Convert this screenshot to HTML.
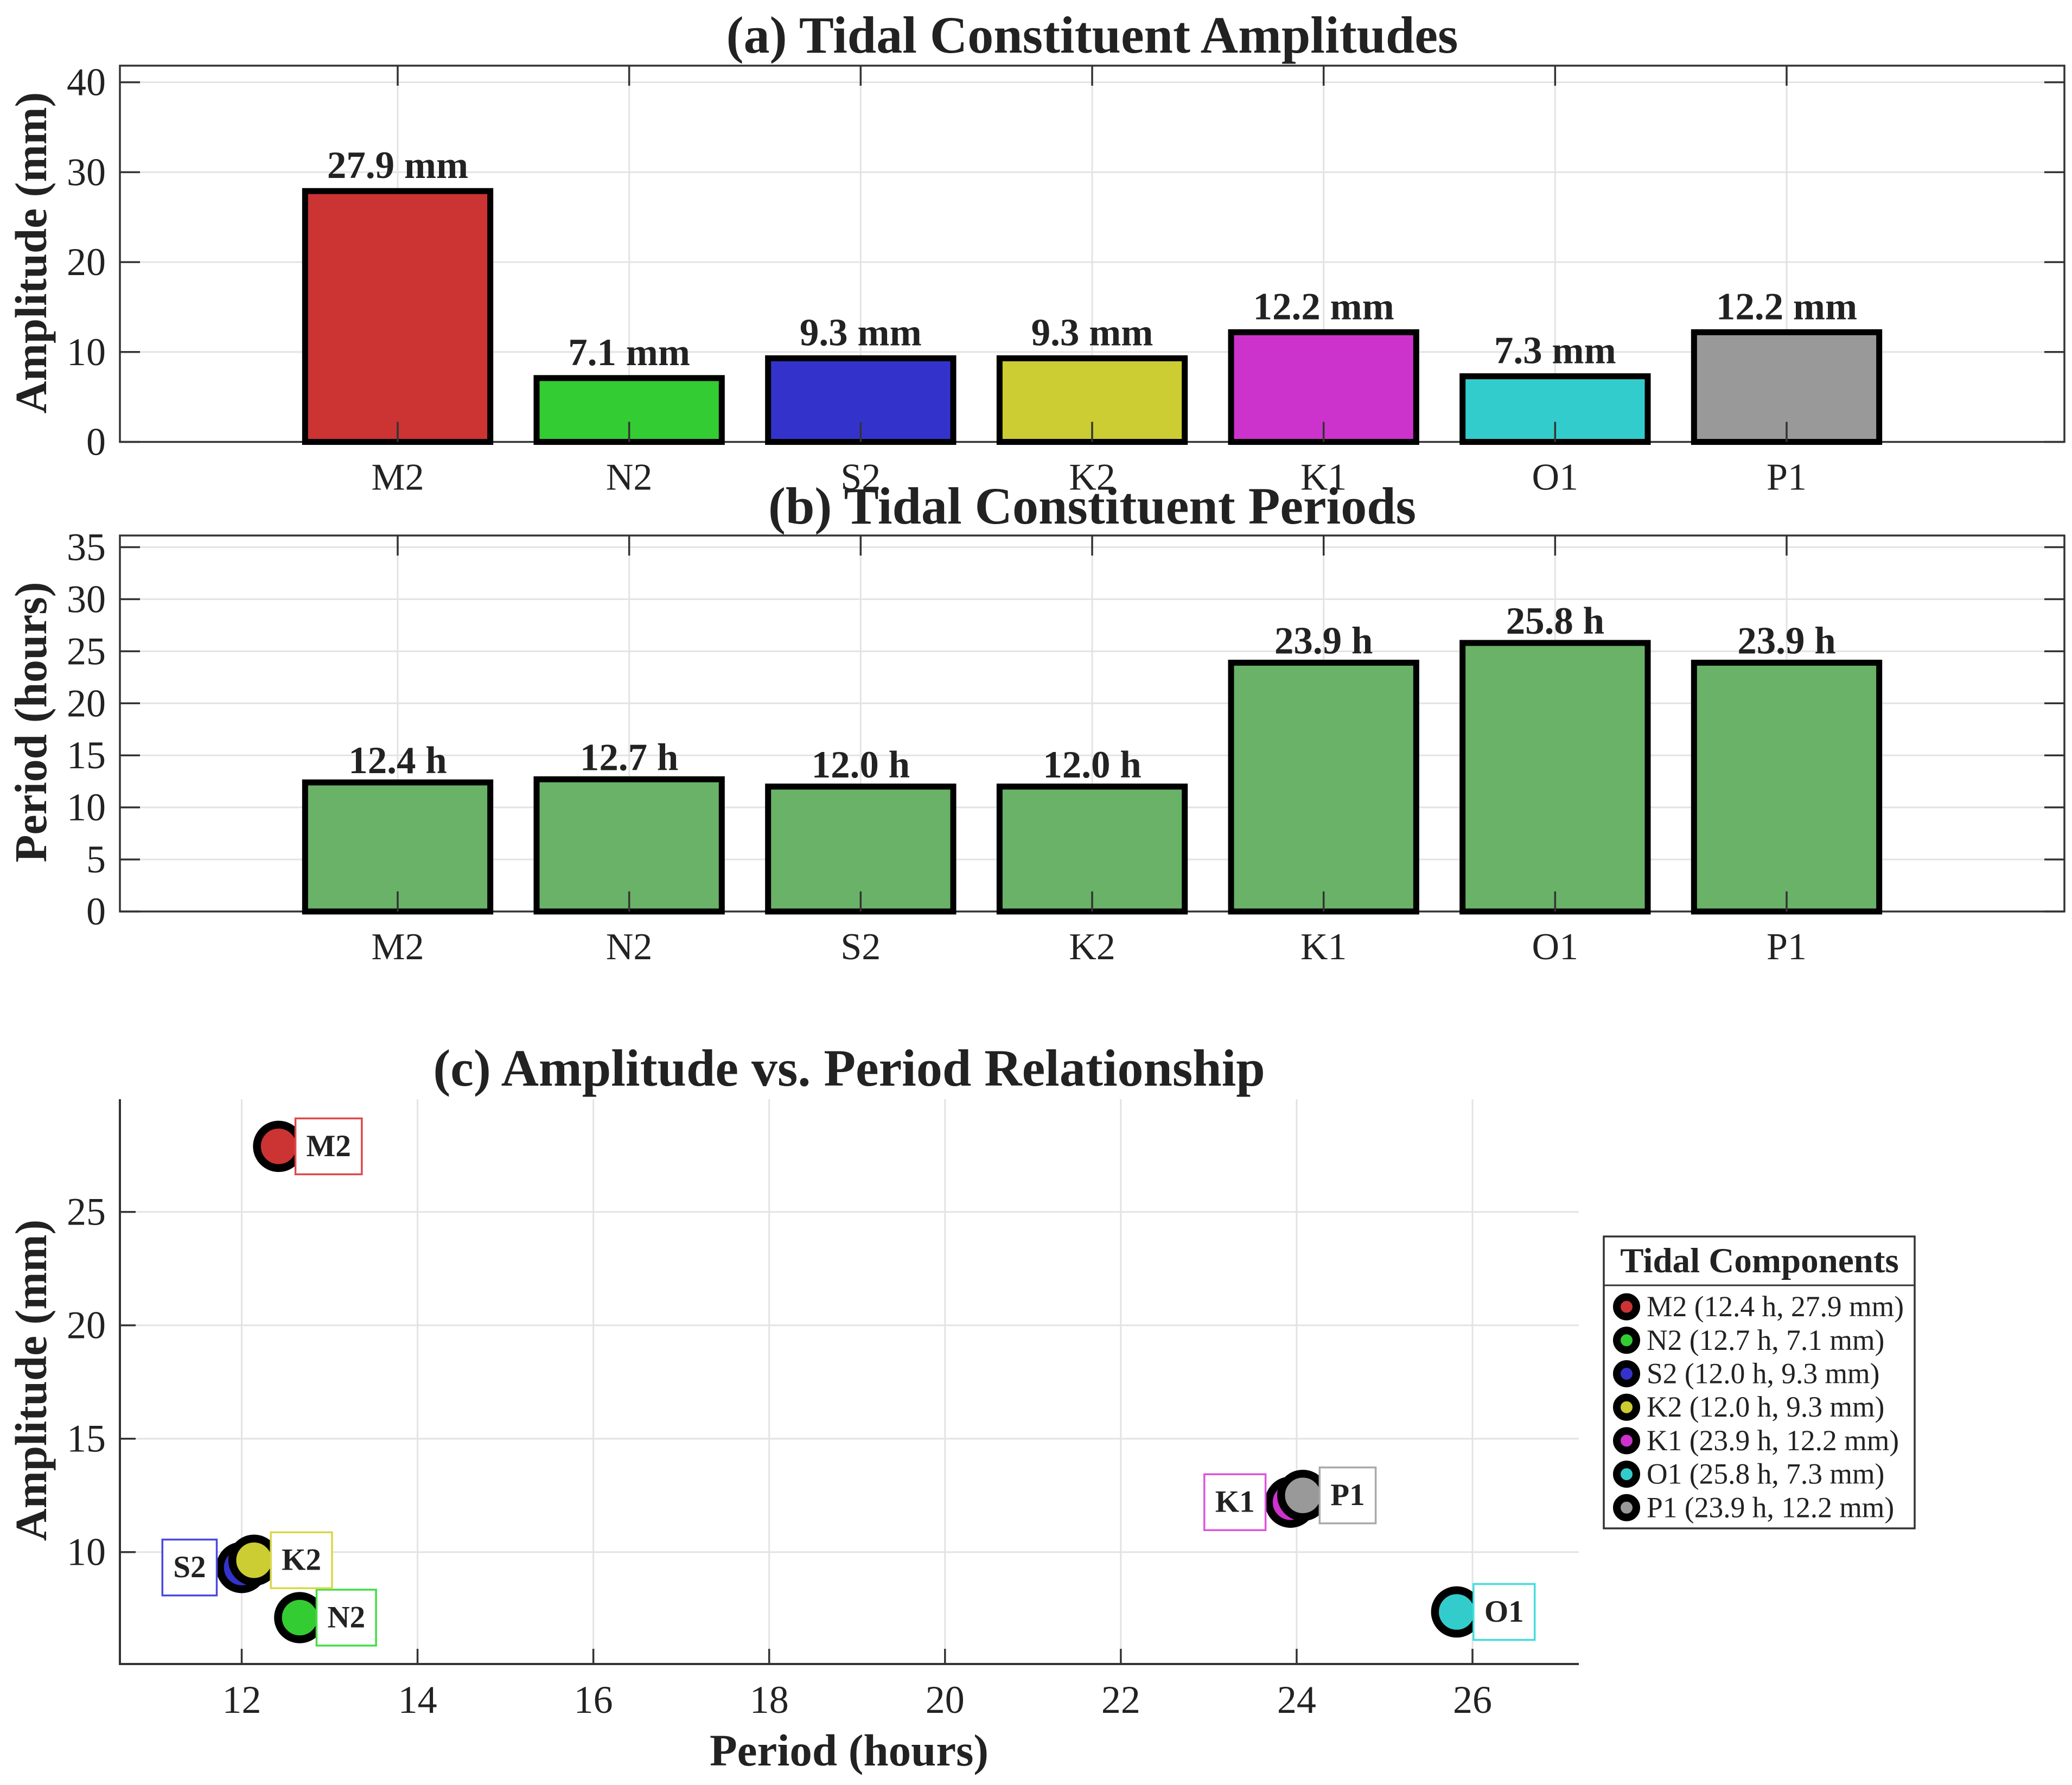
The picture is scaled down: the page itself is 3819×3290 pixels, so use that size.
<!DOCTYPE html>
<html lang="en">
<head>
<meta charset="utf-8">
<title>Tidal Constituents</title>
<style>
html,body{margin:0;padding:0;background:#fff;}
svg{display:block;font-family:"Liberation Serif","Times New Roman",serif;}
text{fill:#222;}
</style>
</head>
<body>
<svg id="chart" xmlns="http://www.w3.org/2000/svg" width="3819" height="3290" viewBox="0 0 3819 3290">
<rect x="0" y="0" width="3819" height="3290" fill="#fff"></rect>
<g id="panelA"></g>
<g id="panelB"></g>
<g id="panelC"></g>
<g id="legend"></g>
<text x="2013" y="97" text-anchor="middle" font-weight="bold" font-size="96">(a) Tidal Constituent Amplitudes</text>
<text x="2013" y="965" text-anchor="middle" font-weight="bold" font-size="96">(b) Tidal Constituent Periods</text>
<text x="1565" y="2001" text-anchor="middle" font-weight="bold" font-size="96">(c) Amplitude vs. Period Relationship</text>
<text transform="translate(85 466) rotate(-90)" text-anchor="middle" font-weight="bold" font-size="83">Amplitude (mm)</text>
<text transform="translate(85 1331) rotate(-90)" text-anchor="middle" font-weight="bold" font-size="83.5">Period (hours)</text>
<text transform="translate(85 2544) rotate(-90)" text-anchor="middle" font-weight="bold" font-size="83">Amplitude (mm)</text>
<text x="1565" y="3254" text-anchor="middle" font-weight="bold" font-size="83">Period (hours)</text>
</svg>
<script>
const constituents = ['M2', 'N2', 'S2', 'K2', 'K1', 'O1', 'P1'];
const amplitudes = [27.9, 7.1, 9.3, 9.3, 12.2, 7.3, 12.2];
const periods = [12.4, 12.7, 12.0, 12.0, 23.9, 25.8, 23.9];
const scatterPeriods = [12.42, 12.66, 12.0, 12.14, 23.93, 25.82, 24.07];
const scatterAmplitudes = [27.89, 7.11, 9.32, 9.64, 12.2, 7.36, 12.5];
const constituentColors = ['#cc3333', '#33cc33', '#3333cc', '#cccc33', '#cc33cc', '#33cccc', '#999999'];
const labelBoxColors = ['#dd4a4a', '#44dd44', '#4a4ae0', '#d8d84a', '#dd55dd', '#44dddd', '#aaaaaa'];
const labelSides = ['right', 'right', 'left', 'right', 'left', 'right', 'right'];
const amplitudeTicks = [0, 10, 20, 30, 40];
const periodTicks = [0, 5, 10, 15, 20, 25, 30, 35];
const scatterXTicks = [12, 14, 16, 18, 20, 22, 24, 26];
const scatterYTicks = [10, 15, 20, 25];

const NS = 'http://www.w3.org/2000/svg';
const GRID = '#e3e3e3';
const AXIS = '#333333';

function make(parent, tag, props, content) {
  const el = document.createElementNS(NS, tag);
  for (const k in props) el.setAttribute(k, props[k]);
  if (content !== undefined) el.textContent = content;
  parent.appendChild(el);
  return el;
}

function linear(d0, d1, r0, r1) {
  return function (v) { return r0 + (v - d0) * (r1 - r0) / (d1 - d0); };
}

function drawBarPanel(root, values, unit, ticks, yMax, top, bottom, barColors, labelGap) {
  const left = 221, right = 3805;
  const x = linear(-0.2, 8.2, left, right);
  const y = linear(0, yMax, bottom, top);
  const bandWidth = x(1) - x(0);

  ticks.forEach(function (t) {
    const g = make(root, 'line', {x1: left, x2: right, y1: y(t), y2: y(t), stroke: GRID, 'stroke-width': 3});
    
    
  });
  constituents.forEach(function (c, i) {
    const g = make(root, 'line', {x1: x(i + 1), x2: x(i + 1), y1: top, y2: bottom, stroke: GRID, 'stroke-width': 3});
    
    
  });

  const frame = make(root, 'rect', {x: left, y: top, width: right - left, height: bottom - top, fill: 'none', stroke: AXIS, 'stroke-width': 3.5});
  
  

  values.forEach(function (v, i) {
    const bar = make(root, 'rect', {
      x: x(i + 1) - 0.4 * bandWidth, y: y(v), width: 0.8 * bandWidth, height: y(0) - y(v),
      fill: barColors[i], stroke: '#000', 'stroke-width': 11
    });
    
    
  });

  ticks.forEach(function (t) {
    const tl = make(root, 'path', {d: 'M' + left + ' ' + y(t) + 'h37M' + right + ' ' + y(t) + 'h-37', stroke: AXIS, 'stroke-width': 3.5, fill: 'none'});
    
    
    const lab = make(root, 'text', {x: 195, y: y(t) + 24, 'text-anchor': 'end', 'font-size': 72}, String(t));
    
    
  });

  constituents.forEach(function (c, i) {
    const tk = make(root, 'path', {d: 'M' + x(i + 1) + ' ' + bottom + 'v-37M' + x(i + 1) + ' ' + top + 'v37', stroke: AXIS, 'stroke-width': 3.5, fill: 'none'});
    
    
    const lab = make(root, 'text', {x: x(i + 1), y: bottom + 88, 'text-anchor': 'middle', 'font-size': 70}, c);
    
    
    const val = make(root, 'text', {x: x(i + 1), y: y(values[i]) - labelGap, 'text-anchor': 'middle', 'font-size': 71, 'font-weight': 'bold'}, values[i].toFixed(1) + ' ' + unit);
    
    
  });
}

function drawScatterPanel(root) {
  const left = 221, right = 2910, top = 2026, bottom = 3067;
  const x = linear(12, 26, 445.5, 2714);
  const y = linear(10, 25, 2860.7, 2233.7);

  scatterYTicks.forEach(function (t) {
    const g = make(root, 'line', {x1: left, x2: right, y1: y(t), y2: y(t), stroke: GRID, 'stroke-width': 3});
    
    
  });
  scatterXTicks.forEach(function (t) {
    const g = make(root, 'line', {x1: x(t), x2: x(t), y1: top, y2: bottom, stroke: GRID, 'stroke-width': 3});
    
    
  });

  const axes = make(root, 'path', {d: 'M' + left + ' ' + top + 'V' + bottom + 'H' + right, fill: 'none', stroke: AXIS, 'stroke-width': 4});
  
  

  scatterYTicks.forEach(function (t) {
    const tk = make(root, 'line', {x1: left, x2: left + 29, y1: y(t), y2: y(t), stroke: AXIS, 'stroke-width': 3.5});
    
    
    const lab = make(root, 'text', {x: 195, y: y(t) + 24, 'text-anchor': 'end', 'font-size': 72}, String(t));
    
    
  });
  scatterXTicks.forEach(function (t) {
    const tk = make(root, 'line', {x1: x(t), x2: x(t), y1: bottom, y2: bottom - 28, stroke: AXIS, 'stroke-width': 3.5});
    
    
    const lab = make(root, 'text', {x: x(t), y: bottom + 90, 'text-anchor': 'middle', 'font-size': 72}, String(t));
    
    
  });

  constituents.forEach(function (c, i) {
    const pt = make(root, 'circle', {cx: x(scatterPeriods[i]), cy: y(scatterAmplitudes[i]), r: 40, fill: constituentColors[i], stroke: '#000', 'stroke-width': 14.5});
    
    
  });

  constituents.forEach(function (c, i) {
    const px = x(scatterPeriods[i]), py = y(scatterAmplitudes[i]);
    const box = make(root, 'rect', {y: py - 51.5, height: 103, fill: '#fff', stroke: labelBoxColors[i], 'stroke-width': 3.5});
    
    
    const lab = make(root, 'text', {y: py + 18, 'text-anchor': 'middle', 'font-size': 57, 'font-weight': 'bold'}, c);
    
    
    const w = lab.getComputedTextLength() + 40;
    const bx = labelSides[i] === 'right' ? px + 31 : px - 46 - w;
    box.setAttribute('x', bx);
    box.setAttribute('width', w);
    lab.setAttribute('x', bx + w / 2);
  });
}

function drawLegend(root) {
  const frame = make(root, 'rect', {x: 2956, y: 2279, width: 573, height: 538, fill: '#fff', stroke: AXIS, 'stroke-width': 3.5});
  
  
  const divider = make(root, 'line', {x1: 2956, x2: 3529, y1: 2369, y2: 2369, stroke: AXIS, 'stroke-width': 3});
  
  
  const title = make(root, 'text', {x: 3243, y: 2345, 'text-anchor': 'middle', 'font-size': 65, 'font-weight': 'bold'}, 'Tidal Components');
  
  
  constituents.forEach(function (c, i) {
    const cy = 2408.6 + i * 61.7;
    const dot = make(root, 'circle', {cx: 2998, cy: cy, r: 18, fill: constituentColors[i], stroke: '#000', 'stroke-width': 14});
    
    
    const txt = make(root, 'text', {x: 3035, y: cy + 17.5, 'font-size': 53.5},
      c + ' (' + periods[i].toFixed(1) + ' h, ' + amplitudes[i].toFixed(1) + ' mm)');
    
    
  });
}

drawBarPanel(document.getElementById('panelA'), amplitudes, 'mm', amplitudeTicks, 41.85, 121, 814.5, constituentColors, 24);
drawBarPanel(document.getElementById('panelB'), periods, 'h', periodTicks, 36.12, 987, 1680, constituents.map(function () { return '#69b267'; }), 17);
drawScatterPanel(document.getElementById('panelC'));
drawLegend(document.getElementById('legend'));
</script>
</body>
</html>
